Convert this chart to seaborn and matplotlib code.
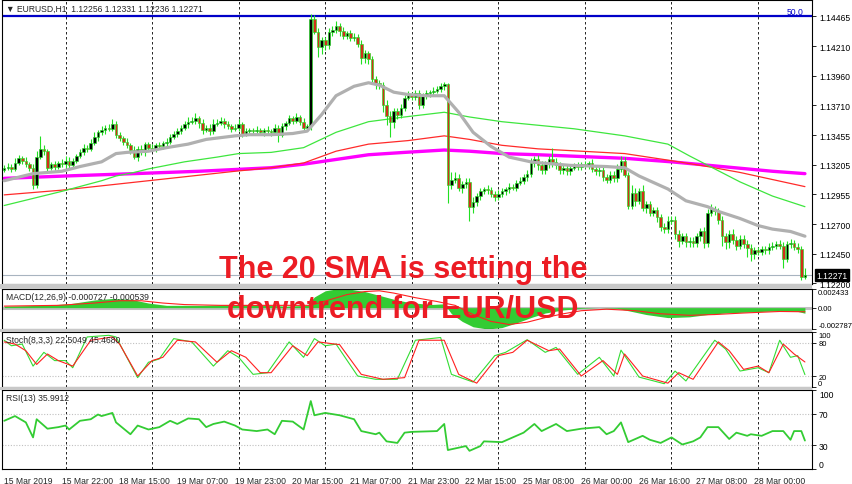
import matplotlib
matplotlib.use("Agg")
import numpy as np
import pandas as pd
import matplotlib.pyplot as plt
import matplotlib.transforms as mtransforms
from matplotlib.patches import Rectangle
import seaborn as sns

W, H = 852, 485

# ---------------- data ----------------
time_labels = ["15 Mar 2019", "15 Mar 22:00", "18 Mar 15:00", "19 Mar 07:00", "19 Mar 23:00",
               "20 Mar 15:00", "21 Mar 07:00", "21 Mar 23:00", "22 Mar 15:00", "25 Mar 08:00",
               "26 Mar 00:00", "26 Mar 16:00", "27 Mar 08:00", "28 Mar 00:00"]
label_bars = [1, 17, 33, 49, 65, 81, 97, 113, 129, 145, 161, 177, 193, 209]
grid_bars = [17, 41, 65, 89, 113, 137, 161, 185, 209]

first_open = 1.1316
closes = [
    1.1318, 1.1319, 1.1317, 1.1322, 1.1326, 1.1324, 1.1321, 1.1318, 1.1303, 1.1327,
    1.1334, 1.1332, 1.1318, 1.1321, 1.1319, 1.1322, 1.1321, 1.1324, 1.1320, 1.1324,
    1.1328, 1.1331, 1.1335, 1.1334, 1.1339, 1.1344, 1.1348, 1.1350, 1.1352, 1.1351,
    1.1355, 1.1346, 1.1343, 1.1340, 1.1337, 1.1333, 1.1327, 1.1334, 1.1331, 1.1338,
    1.1335, 1.1334, 1.1337, 1.1336, 1.1339, 1.1340, 1.1344, 1.1347, 1.1349, 1.1352,
    1.1355, 1.1357, 1.1358, 1.1360, 1.1356, 1.1350, 1.1352, 1.1349, 1.1355, 1.1356,
    1.1358, 1.1355, 1.1353, 1.1351, 1.1352, 1.1355, 1.1347, 1.1349, 1.1350, 1.1349,
    1.1350, 1.1348, 1.1350, 1.1349, 1.1348, 1.1352, 1.1346, 1.1353, 1.1356, 1.1360,
    1.1358, 1.1361, 1.1357, 1.1352, 1.1353, 1.1444, 1.1433, 1.1420, 1.1426, 1.1422,
    1.1433, 1.1435, 1.1438, 1.1434, 1.1430, 1.1432, 1.1428, 1.1429, 1.1423, 1.1411,
    1.1415, 1.1410, 1.1393, 1.1390, 1.1388, 1.1371, 1.1362, 1.1357, 1.1366, 1.1363,
    1.1369, 1.1377, 1.1380, 1.1378, 1.1381, 1.1371, 1.1379, 1.1381, 1.1382, 1.1383,
    1.1385, 1.1387, 1.1389, 1.1303, 1.1308, 1.1309, 1.1301, 1.1304, 1.1306, 1.1285,
    1.1289, 1.1294, 1.1298, 1.1300, 1.1299, 1.1296, 1.1293, 1.1296, 1.1298, 1.1300,
    1.1302, 1.1301, 1.1305, 1.1307, 1.1310, 1.1313, 1.1322, 1.1325, 1.1320, 1.1316,
    1.1321, 1.1325, 1.1323, 1.1320, 1.1316, 1.1318, 1.1315, 1.1318, 1.1320, 1.1319,
    1.1321, 1.1320, 1.1322, 1.1317, 1.1315, 1.1316, 1.1310, 1.1308, 1.1312, 1.1309,
    1.1317, 1.1324, 1.1312, 1.1286, 1.1297, 1.1290, 1.1298, 1.1284, 1.1287, 1.1280,
    1.1282, 1.1276, 1.1268, 1.1266, 1.1273, 1.1274, 1.1262, 1.1256, 1.1260, 1.1255,
    1.1256, 1.1254, 1.1260, 1.1264, 1.1254, 1.1280, 1.1283, 1.1281, 1.1274, 1.1260,
    1.1255, 1.1262, 1.1257, 1.1252, 1.1258, 1.1253, 1.1250, 1.1245, 1.1248, 1.1247,
    1.1249, 1.1248, 1.1251, 1.1252, 1.1253, 1.1252, 1.1241, 1.1253, 1.1254, 1.1251,
    1.1249, 1.12256, 1.12271,
]
# wick sizes above / below the body, in pips
upper_wick_pips = [
    2, 3, 2, 4, 3, 2, 3, 2, 3, 5, 11, 3, 2, 2, 3, 2, 3, 4, 3, 2,
    2, 3, 3, 2, 3, 4, 2, 3, 2, 3, 4, 3, 2, 2, 3, 2, 3, 2, 3, 2,
    2, 3, 2, 3, 2, 3, 3, 2, 3, 2, 3, 4, 3, 4, 2, 3, 2, 3, 4, 3,
    3, 2, 3, 2, 3, 4, 2, 3, 2, 2, 3, 2, 2, 3, 2, 3, 2, 3, 2, 3,
    2, 3, 2, 3, 2, 4, 3, 3, 3, 3, 3, 3, 4, 3, 3, 2, 3, 3, 2, 3,
    3, 2, 3, 3, 2, 3, 4, 4, 3, 3, 3, 3, 3, 2, 3, 3, 2, 3, 2, 3,
    2, 3, 2, 1, 6, 5, 4, 3, 3, 3, 4, 3, 3, 2, 3, 3, 2, 3, 3, 2,
    3, 2, 3, 3, 3, 3, 4, 3, 4, 4, 3, 3, 10, 3, 3, 2, 3, 3, 2, 3,
    2, 3, 2, 3, 3, 3, 3, 3, 3, 3, 4, 4, 3, 2, 6, 4, 3, 5, 3, 3,
    3, 3, 3, 3, 4, 3, 3, 3, 3, 3, 3, 3, 3, 3, 4, 3, 4, 3, 3, 3,
    3, 3, 4, 3, 3, 3, 4, 3, 3, 3, 3, 3, 3, 3, 3, 4, 3, 3, 4, 3,
    3, 3, 6,
]
lower_wick_pips = [
    2, 2, 3, 2, 2, 3, 2, 3, 3, 2, 2, 3, 4, 2, 3, 2, 2, 3, 2, 2,
    2, 2, 2, 3, 2, 2, 3, 2, 3, 2, 2, 3, 2, 3, 2, 3, 2, 3, 2, 3,
    2, 2, 3, 2, 2, 3, 2, 2, 3, 2, 2, 3, 2, 3, 4, 3, 2, 3, 2, 2,
    2, 3, 2, 3, 2, 3, 3, 2, 2, 3, 2, 2, 3, 2, 3, 2, 6, 2, 3, 2,
    3, 2, 3, 3, 3, 3, 2, 8, 6, 4, 3, 3, 3, 4, 3, 3, 3, 3, 3, 5,
    4, 4, 3, 5, 3, 6, 8, 13, 5, 4, 3, 3, 2, 3, 3, 3, 2, 3, 3, 2,
    2, 3, 3, 15, 3, 3, 3, 4, 3, 12, 5, 3, 3, 2, 3, 3, 3, 2, 3, 3,
    3, 2, 3, 2, 3, 3, 3, 3, 4, 3, 3, 3, 4, 3, 3, 3, 3, 3, 2, 3,
    3, 2, 3, 3, 3, 4, 3, 3, 3, 3, 3, 3, 2, 3, 3, 4, 3, 3, 4, 3,
    3, 4, 4, 3, 3, 3, 4, 5, 3, 4, 4, 3, 3, 4, 4, 3, 3, 3, 4, 8,
    6, 5, 4, 4, 3, 3, 8, 6, 4, 3, 3, 3, 3, 3, 3, 3, 8, 3, 3, 3,
    3, 3, 2,
]

# moving averages (sampled along the bars)
sma20_bars = [0, 8, 16, 21, 27, 31, 34, 40, 45, 51, 56, 64, 68, 74, 80, 84, 88, 92, 97, 101,
              104, 108, 112, 117, 122, 126, 130, 135, 140, 146, 149, 157, 167, 172, 176, 184,
              189, 195, 198, 204, 209, 213, 218, 222]
sma20_vals = [1.1307, 1.1313, 1.1315, 1.1319, 1.1323, 1.1330, 1.1331, 1.1332, 1.1335, 1.1338,
              1.1342, 1.1345, 1.1346, 1.1346, 1.1347, 1.1349, 1.1363, 1.1379, 1.1387, 1.1390,
              1.1388, 1.1382, 1.1380, 1.1379, 1.1379, 1.1365, 1.1348, 1.1336, 1.1327, 1.1323,
              1.1322, 1.1320, 1.1319, 1.1318, 1.1311, 1.1300, 1.1290, 1.1285, 1.1281, 1.1275,
              1.1269, 1.1266, 1.1264, 1.1260]
sma50_bars = [0, 8, 16, 27, 31, 36, 40, 50, 59, 65, 74, 83, 92, 101, 111, 122, 129, 138, 148,
              158, 172, 184, 190, 197, 204, 213, 222]
sma50_vals = [1.1286, 1.1292, 1.1298, 1.1307, 1.1311, 1.1314, 1.1317, 1.1323, 1.1327, 1.1330,
              1.1331, 1.1335, 1.1348, 1.1357, 1.1361, 1.1365, 1.1361, 1.1357, 1.1354, 1.1351,
              1.1345, 1.1338, 1.1328, 1.1317, 1.1306, 1.1294, 1.1285]
sma100_bars = [0, 16, 40, 64, 74, 83, 92, 101, 112, 122, 129, 138, 148, 172, 185, 195, 204, 213, 222]
sma100_vals = [1.1295, 1.1299, 1.1307, 1.1315, 1.1318, 1.1322, 1.1332, 1.1338, 1.1341, 1.1345,
               1.1342, 1.1337, 1.1334, 1.1330, 1.1324, 1.1319, 1.1314, 1.1308, 1.1302]
sma200_bars = [0, 17, 36, 54, 74, 83, 92, 101, 111, 122, 129, 138, 148, 172, 185, 199, 213, 222]
sma200_vals = [1.1309, 1.1311, 1.1313, 1.1315, 1.1318, 1.1321, 1.1325, 1.1329, 1.1331, 1.1333,
               1.1332, 1.1330, 1.1329, 1.1326, 1.1323, 1.1319, 1.1315, 1.1313]
fibo_level = 1.14465

# MACD(12,26,9)
macd_bars = [0, 10, 18, 25, 30, 35, 40, 45, 55, 62, 70, 78, 84, 86, 89, 92, 96, 100, 104, 108,
             112, 118, 122, 124, 127, 130, 134, 138, 142, 146, 150, 155, 160, 165, 170, 173,
             178, 184, 190, 195, 200, 205, 210, 215, 220, 222]
macd_vals = [0.0002, 0.0003, 0.0005, 0.0010, 0.0012, 0.0011, 0.0006, 0.0003, 0.0003, 0.0004,
             0.0004, 0.0002, 0.0003, 0.0014, 0.0022, 0.002433, 0.0024, 0.0021, 0.0016, 0.0011,
             0.0007, 0.0004, 0.0005, -0.0008, -0.0018, -0.0025, -0.002787, -0.0026, -0.0020,
             -0.0013, -0.0007, -0.0003, -0.0001, 0.0000, -0.0001, -0.0004, -0.0009, -0.0013,
             -0.0012, -0.0009, -0.0007, -0.0006, -0.0005, -0.0004, -0.0005, -0.000727]
signal_bars = [0, 15, 25, 32, 38, 44, 50, 60, 75, 85, 90, 95, 100, 104, 108, 114, 120, 125,
               130, 135, 140, 145, 150, 155, 160, 167, 175, 182, 190, 197, 205, 215, 222]
signal_vals = [0.0002, 0.0003, 0.0006, 0.0009, 0.0009, 0.0006, 0.0004, 0.0003, 0.0003, 0.0003,
               0.0010, 0.0017, 0.0021, 0.0022, 0.0019, 0.0013, 0.0008, 0.0003, -0.0009, -0.0018,
               -0.0022, -0.0019, -0.0013, -0.0008, -0.0004, -0.0002, -0.0004, -0.0008, -0.0010,
               -0.0009, -0.0007, -0.0005, -0.000539]

# Stoch(8,3,3)
stoch_k_bars = [0, 2, 5, 8, 11, 14, 17, 19, 23, 29, 31, 37, 40, 43, 47, 52, 58, 62, 65, 69,
                73, 79, 83, 86, 89, 92, 98, 103, 109, 114, 121, 124, 130, 136, 139, 145, 150,
                153, 159, 165, 169, 171, 176, 183, 186, 189, 197, 200, 204, 209, 212, 215, 218,
                220, 222]
stoch_k_vals = [85, 75, 78, 38, 63, 48, 48, 35, 91, 94, 91, 17, 45, 51, 88, 82, 38, 66, 54, 23,
                26, 82, 54, 88, 75, 78, 20, 14, 14, 85, 90, 23, 9, 57, 63, 86, 63,
                72, 23, 54, 20, 67, 18, 6, 29, 11, 85, 69, 29, 35, 26, 85, 54,
                57, 22.5]
stoch_d_bars = [0, 3, 6, 9, 12, 15, 19, 24, 30, 32, 37, 41, 44, 48, 53, 59, 63, 67, 71, 74,
                80, 84, 87, 93, 99, 105, 111, 115, 122, 126, 131, 137, 141, 145, 151, 154, 160,
                166, 170, 172, 177, 184, 187, 191, 198, 201, 205, 209, 212, 216, 219, 222]
stoch_d_vals = [82, 78, 66, 41, 60, 48, 38, 85, 91, 78, 20, 48, 54, 85, 82, 45, 66, 54, 26, 26,
                75, 57, 82, 77, 23, 14, 17, 85, 85, 23, 7, 57, 63, 85, 66, 69, 20,
                48, 23, 60, 20, 7, 26, 14, 82, 66, 32, 38, 26, 78, 60, 45.5]

# RSI(13)
rsi_bars = [0, 3, 6, 8, 9, 12, 15, 17, 18, 21, 24, 26, 27, 30, 31, 35, 37, 40, 43, 46,
            48, 51, 54, 56, 58, 61, 64, 66, 70, 73, 75, 77, 80, 83, 85, 86, 89, 93, 97, 99,
            103, 104, 106, 109, 111, 113, 120, 122, 123, 126, 128, 129, 132, 133, 138, 141, 144,
            147, 149, 153, 156, 160, 165, 167, 169, 171, 173, 177, 179, 182, 185, 188, 191, 193,
            195, 198, 201, 203, 206, 207, 210, 213, 216, 218, 219, 221, 222]
rsi_vals = [61, 67, 59, 40, 63, 51, 53, 55, 50, 61, 63, 69, 67, 71, 59, 44, 55, 50, 53, 61,
            57, 64, 63, 53, 57, 60, 55, 50, 48, 50, 44, 61, 60, 50, 86, 68, 71, 68, 63, 48,
            44, 46, 35, 33, 46, 47, 48, 57, 24, 27, 29, 23, 29, 35, 34, 40, 46,
            57, 48, 57, 48, 51, 53, 44, 48, 59, 34, 42, 37, 33, 40, 31, 35, 40,
            53, 53, 38, 46, 42, 44, 42, 48, 48, 37, 48, 48, 36]

price_ticks = [1.14465, 1.14210, 1.13960, 1.13710, 1.13455, 1.13205, 1.12955, 1.12700, 1.12450, 1.12200]

# ---------------- styling ----------------
sns.set_style("white")
plt.rcParams["font.family"] = ["Liberation Sans", "DejaVu Sans"]

XMIN, XMAX = -0.61, 223.96
SMALL = 6.2
GREEN = "#22e022"

fig = plt.figure(figsize=(W / 100, H / 100), dpi=100)
fig.patch.set_facecolor("white")

# gray splitters between the windows
for y0, y1 in [(285, 290), (330, 333), (388, 391)]:
    fig.patches.append(Rectangle((0, 1 - y1 / H), 812 / W, (y1 - y0) / H,
                                 transform=fig.transFigure, facecolor="#c8c8c8", edgecolor="none"))


def panel(x0, y0, x1, y1):
    ax = fig.add_axes([x0 / W, 1 - y1 / H, (x1 - x0) / W, (y1 - y0) / H])
    ax.set_xlim(XMIN, XMAX)
    ax.set_xticks([])
    for s in ax.spines.values():
        s.set_color("black")
        s.set_linewidth(0.8)
    ax.yaxis.tick_right()
    ax.tick_params(axis="y", direction="out", length=3, width=0.6, labelsize=SMALL, pad=2,
                   colors="black")
    for b in grid_bars:
        ax.axvline(b, color="black", lw=0.6, ls=(0, (3, 3)), zorder=0)
    return ax


# ---------------- main price window ----------------
ax = panel(2, 1, 812, 285)
ax.set_ylim(1.12195, 1.14601)

candles = pd.DataFrame({"close": closes})
candles["open"] = [first_open] + closes[:-1]
candles["high"] = candles[["open", "close"]].max(axis=1) + np.array(upper_wick_pips) * 0.0001
candles["low"] = candles[["open", "close"]].min(axis=1) - np.array(lower_wick_pips) * 0.0001
candles["bar"] = np.arange(len(candles))

ax.axhline(fibo_level, color="#0000c8", lw=1.6, zorder=1)
ax.axhline(closes[-1], color="#a8b4c0", lw=0.8, zorder=1)

ax.vlines(candles["bar"], candles["low"], candles["high"], color=GREEN, lw=0.8, zorder=3)
body_bottom = candles[["open", "close"]].min(axis=1)
body_height = (candles["close"] - candles["open"]).abs().clip(lower=0.00003)
body_color = np.where(candles["close"] >= candles["open"], "black", "#d0301a")
ax.bar(candles["bar"], body_height, bottom=body_bottom, width=0.72, color=body_color,
       edgecolor=GREEN, linewidth=0.45, zorder=4)

sns.lineplot(x=sma200_bars, y=sma200_vals, ax=ax, color="#ff00ff", lw=2.4, estimator=None, zorder=2)
sns.lineplot(x=sma100_bars, y=sma100_vals, ax=ax, color="#ff2a2a", lw=0.9, estimator=None, zorder=2)
sns.lineplot(x=sma50_bars, y=sma50_vals, ax=ax, color="#3ee63e", lw=0.9, estimator=None, zorder=2)
sns.lineplot(x=sma20_bars, y=sma20_vals, ax=ax, color="#b0b0b0", lw=2.3, estimator=None, zorder=5)

ax.set_yticks(price_ticks)
ax.set_yticklabels([f"{p:.5f}" for p in price_ticks])
ax.set_xlabel("")
ax.set_ylabel("")
ax.text(221.5, fibo_level, "50.0", color="#0000c8", fontsize=SMALL, ha="right", va="bottom")
ax.text(1.0055, closes[-1], f"{closes[-1]:.5f}", transform=ax.get_yaxis_transform(),
        fontsize=SMALL, color="white", ha="left", va="center",
        bbox=dict(boxstyle="square,pad=0.15", fc="black", ec="black"))
ax.text(0.005, 0.985, "\u25bc EURUSD,H1  1.12256 1.12331 1.12236 1.12271", transform=ax.transAxes,
        fontsize=SMALL, ha="left", va="top")

# ---------------- MACD window ----------------
ax_m = panel(2, 290, 812, 330)
ax_m.set_ylim(-0.002787, 0.002433)
ax_m.axhline(0, color="#c0c0c0", lw=2.2, zorder=1)
ax_m.fill_between(macd_bars, 0, macd_vals, color="#33cc33", lw=0, zorder=2)
sns.lineplot(x=signal_bars, y=signal_vals, ax=ax_m, color="#ff2020", lw=0.8, estimator=None, zorder=3)
ax_m.set_yticks([0.002433, 0.0, -0.002787])
ax_m.set_yticklabels(["0.002433", "0.00", "-0.002787"])
ax_m.tick_params(axis="y", labelsize=5.5, pad=1.5)
ax_m.set_xlabel("")
ax_m.set_ylabel("")
ax_m.text(0.005, 0.93, "MACD(12,26,9) -0.000727 -0.000539", transform=ax_m.transAxes,
          fontsize=SMALL, ha="left", va="top")

# ---------------- Stochastic window ----------------
ax_s = panel(2, 333, 812, 388)
ax_s.set_ylim(0, 100)
for lvl in (80, 20):
    ax_s.axhline(lvl, color="#c0c0c0", lw=0.8, ls=(0, (1, 1.5)), zorder=1)
sns.lineplot(x=stoch_k_bars, y=stoch_k_vals, ax=ax_s, color="#33dd33", lw=0.8, estimator=None, zorder=3)
sns.lineplot(x=stoch_d_bars, y=stoch_d_vals, ax=ax_s, color="#ff2020", lw=0.8, estimator=None, zorder=3)
ax_s.set_yticks([100, 80, 20, 0])
ax_s.set_yticklabels(["100", "80", "20", "0"])
ax_s.tick_params(axis="y", labelsize=5.4, pad=1.5)
ax_s.set_xlabel("")
ax_s.set_ylabel("")
ax_s.text(0.005, 0.95, "Stoch(8,3,3) 22.5049 45.4680", transform=ax_s.transAxes,
          fontsize=SMALL, ha="left", va="top")

# ---------------- RSI window ----------------
ax_r = panel(2, 391, 812, 470)
ax_r.set_ylim(0, 100)
for lvl in (70, 30):
    ax_r.axhline(lvl, color="#c0c0c0", lw=0.8, ls=(0, (1, 1.5)), zorder=1)
sns.lineplot(x=rsi_bars, y=rsi_vals, ax=ax_r, color="#33cc33", lw=1.3, estimator=None, zorder=3)
ax_r.set_yticks([100, 70, 30, 0])
ax_r.set_yticklabels(["100", "70", "30", "0"])
ax_r.set_xlabel("")
ax_r.set_ylabel("")
ax_r.text(0.005, 0.96, "RSI(13) 35.9912", transform=ax_r.transAxes,
          fontsize=SMALL, ha="left", va="top")

ax_r.set_xticks(label_bars)
ax_r.set_xticklabels(time_labels, ha="left")
ax_r.tick_params(axis="x", direction="out", length=3, width=0.6, labelsize=SMALL, pad=2)
shift = mtransforms.ScaledTranslation(-4 / 100, 0, fig.dpi_scale_trans)
for lab in ax_r.get_xticklabels():
    lab.set_transform(lab.get_transform() + shift)

# edge labels sit inside the window like in the terminal
for a in (ax_m, ax_s, ax_r):
    labels = a.get_yticklabels()
    labels[0].set_va("top")
    labels[-1].set_va("bottom")

# ---------------- headline ----------------
for text, ypx in [("The 20 SMA is setting the", 270), ("downtrend for EUR/USD", 310)]:
    fig.text(403 / W, 1 - ypx / H, text, color="#ec1c24", fontsize=22, fontweight="bold",
             family="Liberation Sans", ha="center", va="center", zorder=10)

fig.savefig("out.png", dpi=100)
